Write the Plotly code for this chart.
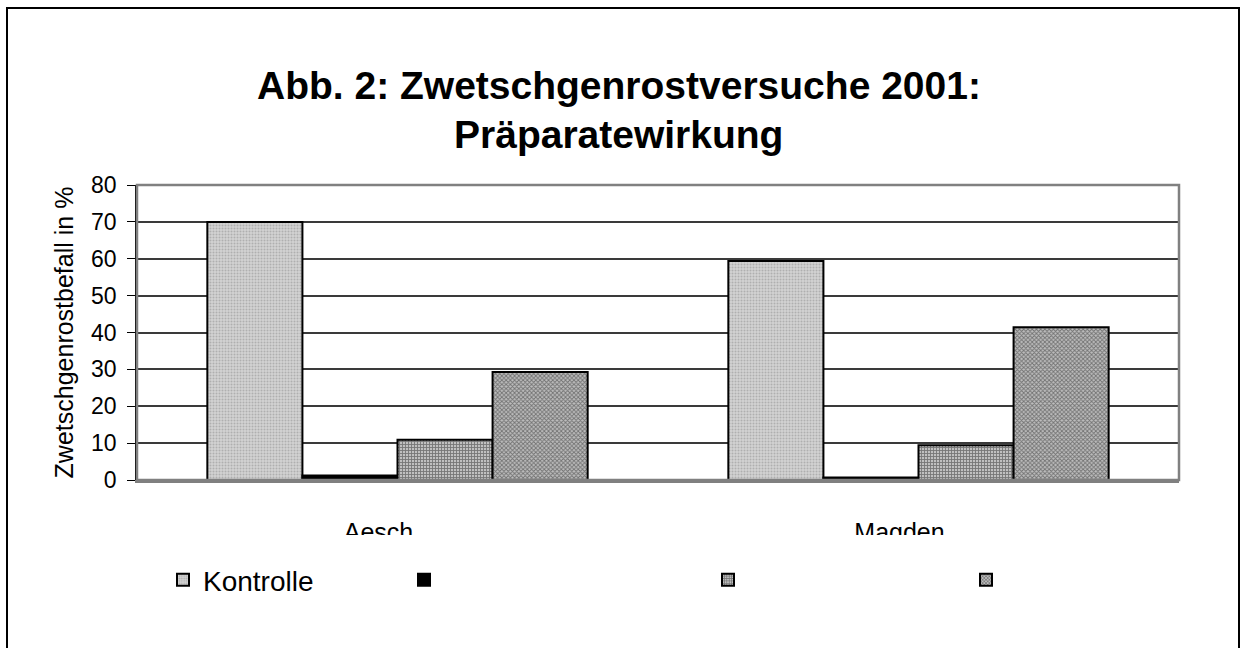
import plotly.graph_objects as go

# ---- data ----
categories = ["Aesch", "Magden"]
series_names = ["Kontrolle", " ", "  ", "   "]
kontrolle = [70.0, 59.4]
serie2 = [1.2, 0.7]
serie3 = [10.9, 9.4]
serie4 = [29.3, 41.4]
y_ticks = [0, 10, 20, 30, 40, 50, 60, 70, 80]

W, H = 1241, 648
L, R, T, B = 137, 1179, 185, 480  # plot area in px


def px_x(p):
    return (p - L) / (R - L)


def px_y(p):
    return (B - p) / (B - T)


FONT = "Liberation Sans, Arial, sans-serif"

styles = [
    dict(color="#c8c8c8", pattern=dict(shape=".", fgcolor="#8c8c8c", bgcolor="#d2d2d2", size=3, solidity=0.35)),
    dict(color="#000000"),
    dict(color="#666666", pattern=dict(shape="+", fgcolor="#2a2a2a", bgcolor="#c0c0c0", size=3, solidity=0.5)),
    dict(color="#777777", pattern=dict(shape="x", fgcolor="#262626", bgcolor="#bdbdbd", size=3, solidity=0.5)),
]
values = [kontrolle, serie2, serie3, serie4]
legends = ["legend", "legend2", "legend3", "legend4"]
legend_px = [163, 404, 708, 966]

fig = go.Figure()
for name, vals, st, lg in zip(series_names, values, styles, legends):
    marker = dict(color=st["color"], line=dict(color="black", width=2))
    if "pattern" in st:
        marker["pattern"] = st["pattern"]
    fig.add_trace(go.Bar(x=categories, y=vals, name=name, marker=marker, legend=lg))

legend_common = dict(orientation="h", yanchor="middle", xanchor="left",
                     font=dict(family=FONT, size=28, color="black"),
                     bgcolor="rgba(0,0,0,0)", borderwidth=0)
lay_leg = {}
for lg, lx in zip(legends, legend_px):
    lay_leg[lg] = dict(legend_common, x=px_x(lx), y=px_y(580))

fig.update_layout(
    width=W, height=H,
    margin=dict(l=L, r=W - R, t=T, b=H - B, autoexpand=False),
    paper_bgcolor="white", plot_bgcolor="white",
    barmode="group", bargap=0.27, bargroupgap=0,
    font=dict(family=FONT, color="black"),
    showlegend=True,
    **lay_leg,
)

fig.update_yaxes(
    range=[0, 80], tickvals=y_ticks, ticktext=[str(v) for v in y_ticks],
    showgrid=True, gridcolor="#3a3a3a", gridwidth=1.5,
    showline=True, linecolor="black", linewidth=1.5,
    ticks="outside", ticklen=8, tickcolor="black", tickwidth=1,
    tickfont=dict(family=FONT, size=23, color="black"),
    ticklabelstandoff=6,
    zeroline=False,
    title=dict(text="Zwetschgenrostbefall in %", font=dict(family=FONT, size=25, color="black"), standoff=10),
)
fig.update_xaxes(
    showline=True, linecolor="#808080", linewidth=2.5,
    ticks="", tickfont=dict(family=FONT, size=25, color="black"),
    ticklabelstandoff=28, ticklabelshift=-19,
)

# plot frame (top/right grey)
fig.add_shape(type="rect", xref="paper", yref="paper", x0=0, x1=1, y0=0, y1=1,
              line=dict(color="#808080", width=2.5), fillcolor="rgba(0,0,0,0)", layer="above")
# outer chart border
fig.add_shape(type="rect", xref="paper", yref="paper",
              x0=px_x(7), x1=px_x(1239), y0=px_y(700), y1=px_y(8),
              line=dict(color="black", width=2), fillcolor="rgba(0,0,0,0)", layer="above")
# clipping of category labels as in original
fig.add_shape(type="rect", xref="paper", yref="paper",
              x0=px_x(150), x1=px_x(1170), y0=px_y(562), y1=px_y(535),
              line=dict(width=0), fillcolor="white", layer="above")

fig.add_annotation(text="<b>Abb. 2: Zwetschgenrostversuche 2001:</b>", xref="paper", yref="paper",
                   x=px_x(619), y=px_y(86), xanchor="center", yanchor="middle", showarrow=False,
                   font=dict(family=FONT, size=39, color="black"))
fig.add_annotation(text="<b>Präparatewirkung</b>", xref="paper", yref="paper",
                   x=px_x(618), y=px_y(134), xanchor="center", yanchor="middle", showarrow=False,
                   font=dict(family=FONT, size=39, color="black"))

fig.write_html("out.html", config={"displayModeBar": False},
               post_script="document.body.style.margin='0px';")
